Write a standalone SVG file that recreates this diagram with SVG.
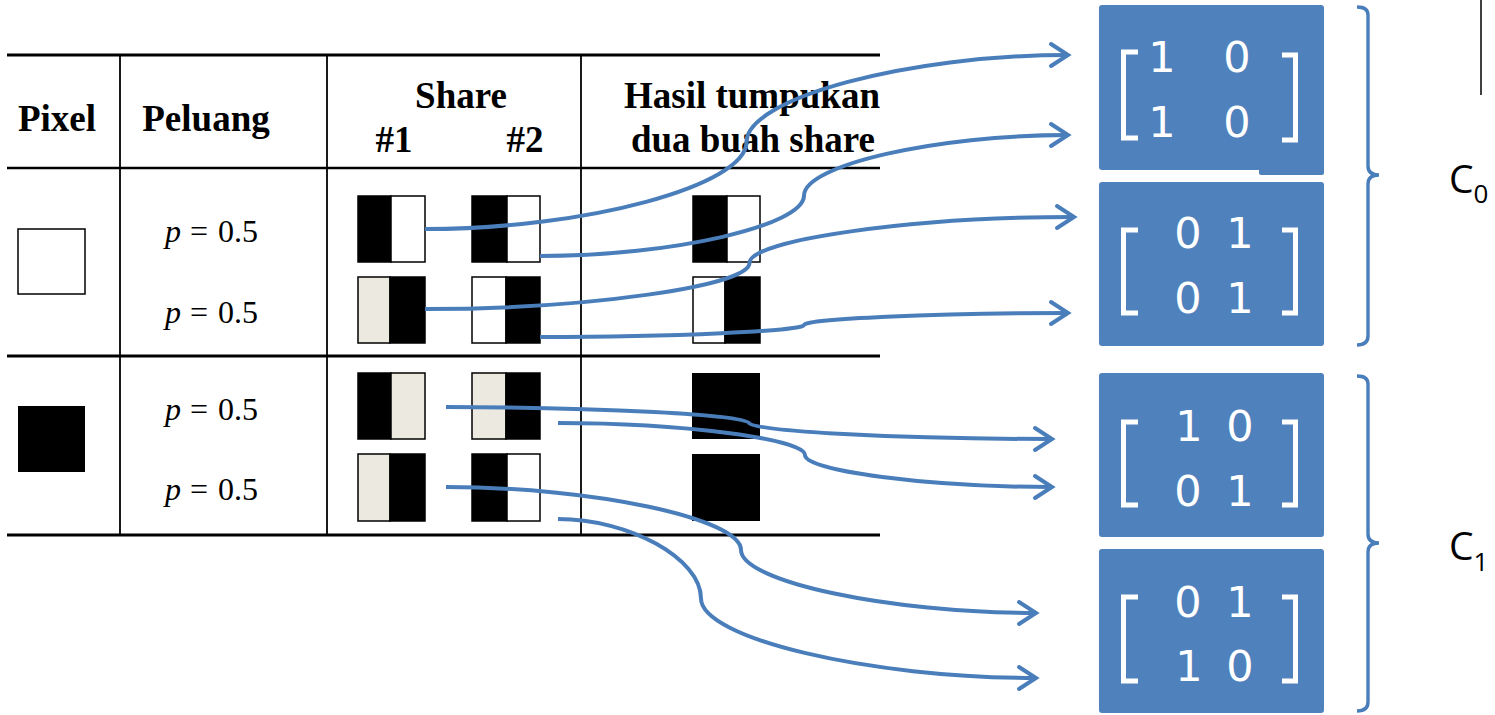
<svg xmlns="http://www.w3.org/2000/svg" width="1495" height="715" viewBox="0 0 1495 715">
<style>
.hd{font-family:"Liberation Serif",serif;font-weight:bold;font-size:37px;fill:#000;text-anchor:middle}
.pv{font-family:"Liberation Serif",serif;font-size:32px;fill:#000}
.tl{stroke:#000;fill:none}
.cell{stroke:#000;stroke-width:1.5}
.blk{fill:#000}
.wht{fill:#fff}
.lgt{fill:#ECEAE0}
.conn{fill:none;stroke:#4A7EBB;stroke-width:4;marker-end:url(#arr)}
.box{fill:#4F81BD}
.brk{fill:none;stroke:#fff;stroke-width:5}
.dg{font-family:"DejaVu Sans",sans-serif;font-size:43px;fill:#fff;text-anchor:middle}
.brace{fill:none;stroke:#4A7EBB;stroke-width:3.4}
.cl{font-family:"Open Sans",sans-serif;fill:#000}
</style>
<defs>
<marker id="arr" markerUnits="userSpaceOnUse" viewBox="-22 -14 26 28" markerWidth="26" markerHeight="28" refX="0" refY="0" orient="auto" overflow="visible">
<path d="M-17,-11 L0,0 L-17,11" fill="none" stroke="#4A7EBB" stroke-width="4" stroke-linecap="round"/>
</marker>
</defs>
<rect width="1495" height="715" fill="#fff"/>
<g id="table">
<line class="tl" x1="7" y1="55" x2="880" y2="55" stroke-width="3"/>
<line class="tl" x1="7" y1="168" x2="880" y2="168" stroke-width="2.5"/>
<line class="tl" x1="7" y1="356" x2="880" y2="356" stroke-width="3"/>
<line class="tl" x1="7" y1="535" x2="880" y2="535" stroke-width="3"/>
<line class="tl" x1="120" y1="55" x2="120" y2="535" stroke-width="1.8"/>
<line class="tl" x1="327" y1="55" x2="327" y2="535" stroke-width="1.8"/>
<line class="tl" x1="581" y1="55" x2="581" y2="535" stroke-width="1.8"/>
<text class="hd" x="57" y="131">Pixel</text>
<text class="hd" x="206" y="131">Peluang</text>
<text class="hd" x="461" y="108">Share</text>
<text class="hd" x="394" y="152">#1</text>
<text class="hd" x="525" y="152">#2</text>
<text class="hd" x="752" y="108">Hasil tumpukan</text>
<text class="hd" x="753" y="152">dua buah share</text>
</g>
<g id="pixel-white"><rect x="18" y="229" width="67" height="65" fill="#fff" stroke="#000" stroke-width="1.5"/></g>
<g id="pixel-black"><rect x="18" y="406" width="67" height="66" fill="#000"/></g>
<g id="peluang">
<text class="pv" y="242"><tspan x="165" font-style="italic">p</tspan><tspan x="190">=</tspan><tspan x="218">0.5</tspan></text>
<text class="pv" y="323"><tspan x="165" font-style="italic">p</tspan><tspan x="190">=</tspan><tspan x="218">0.5</tspan></text>
<text class="pv" y="420"><tspan x="165" font-style="italic">p</tspan><tspan x="190">=</tspan><tspan x="218">0.5</tspan></text>
<text class="pv" y="500"><tspan x="165" font-style="italic">p</tspan><tspan x="190">=</tspan><tspan x="218">0.5</tspan></text>
</g>
<g id="shares">
<rect class="blk cell" x="358" y="196" width="33" height="66"/><rect class="wht cell" x="391" y="196" width="34" height="66"/>
<rect class="blk cell" x="472" y="196" width="35" height="66"/><rect class="wht cell" x="507" y="196" width="33" height="66"/>
<rect class="lgt cell" x="358" y="277" width="32" height="66"/><rect class="blk cell" x="390" y="277" width="35" height="66"/>
<rect class="wht cell" x="472" y="277" width="34" height="66"/><rect class="blk cell" x="506" y="277" width="34" height="66"/>
<rect class="blk cell" x="358" y="373" width="33" height="66"/><rect class="lgt cell" x="391" y="373" width="34" height="66"/>
<rect class="lgt cell" x="472" y="373" width="34" height="66"/><rect class="blk cell" x="506" y="373" width="34" height="66"/>
<rect class="lgt cell" x="358" y="454" width="32" height="67"/><rect class="blk cell" x="390" y="454" width="35" height="67"/>
<rect class="blk cell" x="472" y="454" width="35" height="67"/><rect class="wht cell" x="507" y="454" width="33" height="67"/>
</g>
<g id="results">
<rect class="blk cell" x="693" y="196" width="34" height="66"/><rect class="wht cell" x="727" y="196" width="33" height="66"/>
<rect class="wht cell" x="693" y="277" width="32" height="66"/><rect class="blk cell" x="725" y="277" width="35" height="66"/>
<rect class="blk" x="692" y="373" width="68" height="66"/>
<rect class="blk" x="692" y="454" width="68" height="67"/>
</g>
<g id="connectors">
<path class="conn" d="M425,229 C585.75,229 746.5,185.5 746.5,142 C746.5,98.5 907.25,55 1068,55"/>
<path class="conn" d="M540,256 C672,256 804,225.75 804,195.5 C804,165.25 936,135 1068,135"/>
<path class="conn" d="M425,309 C587.25,309 749.5,286 749.5,263 C749.5,240 911.75,217 1074,217"/>
<path class="conn" d="M540,337 C672,337 804,331 804,325 C804,319 936,313 1068,313"/>
<path class="conn" d="M446,407 C597.5,407 749,415 749,423 C749,431 900.5,439 1052,439"/>
<path class="conn" d="M558,423 C681.5,423 805,439 805,455 C805,471 928.5,487 1052,487"/>
<path class="conn" d="M446,487 C593.5,487 741,518.5 741,550 C741,581.5 888.5,613 1036,613"/>
<path class="conn" d="M558,519 C629.5,519 701,558.75 701,598.5 C701,638.25 868.5,678 1036,678"/>
</g>
<g id="matrix1">
<rect class="box" x="1099" y="5" width="225" height="165" rx="3"/>
<rect class="box" x="1259" y="160" width="65" height="15" rx="2"/>
<path class="brk" d="M1138,52 H1123.5 V138 H1138"/>
<path class="brk" d="M1282,55 H1295.5 V140 H1282"/>
<text class="dg" x="1162" y="72">1</text><text class="dg" x="1237" y="72">0</text>
<text class="dg" x="1162" y="137">1</text><text class="dg" x="1237" y="137">0</text>
</g>
<g id="matrix2">
<rect class="box" x="1099" y="182" width="225" height="164" rx="3"/>
<path class="brk" d="M1138,230 H1123.5 V313 H1138"/>
<path class="brk" d="M1282,230 H1295.5 V313 H1282"/>
<text class="dg" x="1188" y="248">0</text><text class="dg" x="1240" y="248">1</text>
<text class="dg" x="1188" y="313">0</text><text class="dg" x="1240" y="313">1</text>
</g>
<g id="matrix3">
<rect class="box" x="1099" y="373" width="225" height="164" rx="3"/>
<path class="brk" d="M1138,422 H1123.5 V505 H1138"/>
<path class="brk" d="M1282,422 H1295.5 V505 H1282"/>
<text class="dg" x="1189" y="441">1</text><text class="dg" x="1240" y="441">0</text>
<text class="dg" x="1188" y="506">0</text><text class="dg" x="1240" y="506">1</text>
</g>
<g id="matrix4">
<rect class="box" x="1099" y="549" width="225" height="164" rx="3"/>
<path class="brk" d="M1138,597 H1123.5 V681 H1138"/>
<path class="brk" d="M1282,597 H1295.5 V681 H1282"/>
<text class="dg" x="1188" y="617">0</text><text class="dg" x="1240" y="617">1</text>
<text class="dg" x="1189" y="681">1</text><text class="dg" x="1240" y="681">0</text>
</g>
<g id="C0">
<path class="brace" d="M1357,7 Q1368,7 1368,15 V166 Q1368,175 1379,175 Q1368,175 1368,184 V336 Q1368,345 1357,345"/>
<text class="cl" x="1449" y="193" font-size="39">C<tspan font-size="26" dy="10">0</tspan></text>
</g>
<g id="C1">
<path class="brace" d="M1357,376 Q1368,376 1368,384 V534 Q1368,543 1379,543 Q1368,543 1368,552 V702 Q1368,711 1357,711"/>
<text class="cl" x="1449" y="560" font-size="39">C<tspan font-size="26" dy="11">1</tspan></text>
</g>
<line id="edge-line" x1="1481" y1="0" x2="1481" y2="95" stroke="#000" stroke-width="1.5"/>
</svg>
